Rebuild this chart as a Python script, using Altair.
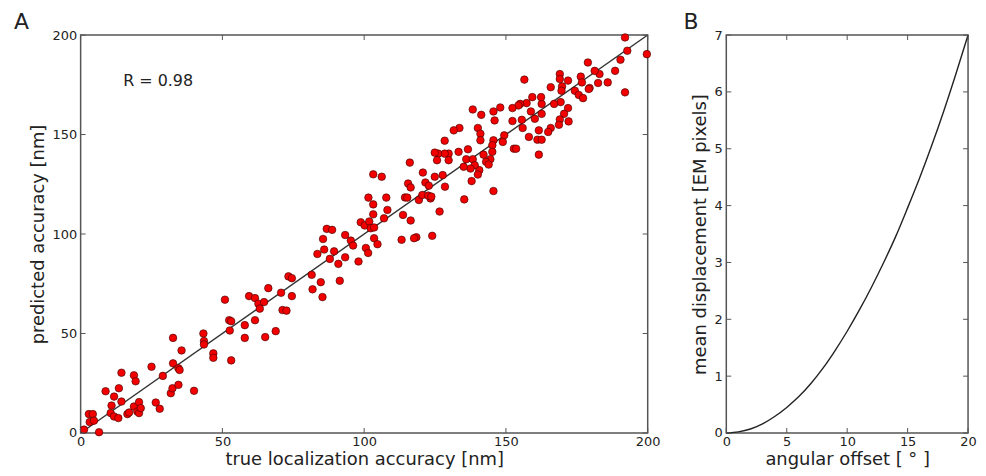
import altair as alt
import pandas as pd

# ---------------- Panel A data ----------------
true_acc = [
    1.2, 2.9, 4.3, 3.2, 4.7, 6.5, 8.8, 11.8, 10.9, 10.6, 11.8, 13.3, 13.5, 14.4, 14.4,
    16.5, 17.1, 18.8, 18.8, 19.4, 20.0, 20.6, 20.6, 21.2, 25.0, 26.5, 27.9, 29.0, 31.8,
    32.4, 32.6, 32.6, 34.5, 34.9, 34.5, 35.6, 40.0, 43.3, 43.5, 43.5, 46.8, 46.8, 50.9,
    52.4, 53.1, 52.6, 53.1, 57.9, 57.9, 59.4, 61.5, 61.5, 62.7, 63.2, 64.7, 65.1, 66.2,
    68.8, 70.7, 71.2, 72.6, 73.3, 74.5, 74.5, 81.5, 81.8, 83.5, 84.7, 85.3, 85.5, 85.9,
    87.9, 89.4, 90.9, 91.4, 93.3, 93.3, 95.3, 96.1, 98.0, 100.6, 101.4,
    86.8, 88.7, 98.8, 100.2, 101.8, 101.5, 103.5, 104.7, 118.4,
    192.0, 192.8, 199.7, 192.0, 188.5, 190.4, 185.9, 182.5, 183.0, 181.3, 178.9, 179.5,
    179.2, 176.4, 176.8, 174.3, 175.7, 177.2, 171.9, 169.0, 169.0, 169.8, 169.6, 165.8,
    156.5, 169.3, 171.9, 170.5, 169.0, 172.1, 168.7, 165.8, 164.9, 167.0, 162.6, 162.4,
    159.3, 157.3, 155.0, 154.4, 152.3, 162.6, 158.8, 160.2, 155.6, 152.3, 155.9, 161.6,
    158.1, 161.1, 162.6, 161.6, 148.0, 145.6, 146.0, 141.3, 138.3, 140.1, 141.0, 141.0,
    133.6, 131.6, 128.4, 145.6, 149.4, 148.9, 145.2, 152.8, 153.6, 145.2, 142.1, 144.5,
    143.0, 143.9, 140.6, 140.1, 145.6, 137.9, 136.6, 136.0, 133.3, 138.3, 139.0, 137.5,
    135.1, 129.8, 128.4, 126.1, 124.9, 125.7, 129.8, 127.7, 124.9, 128.5, 135.3, 120.7,
    121.6, 122.8, 123.4, 119.3, 120.5, 122.6, 123.7, 114.4, 115.2, 115.5, 116.4, 116.1,
    126.6, 113.7, 116.4, 124.0, 117.6, 113.2, 107.8, 108.2, 107.0, 103.2, 106.2, 103.2,
    103.2, 102.3, 103.5,
]
pred_acc = [
    1.7, 9.5, 9.5, 5.5, 6.2, 0.4, 21.0, 18.3, 13.8, 10.0, 8.3, 7.5, 22.5, 30.3, 15.8,
    9.5, 10.3, 13.3, 29.0, 26.0, 10.8, 15.5, 10.0, 12.5, 33.3, 15.3, 12.2, 28.7, 20.0,
    22.5, 47.8, 35.0, 32.5, 31.7, 24.2, 41.5, 21.2, 50.0, 46.2, 44.5, 40.0, 37.8, 67.0,
    56.7, 56.2, 51.5, 36.5, 54.2, 47.8, 68.8, 67.8, 56.7, 65.0, 62.5, 65.8, 48.2, 72.8,
    51.2, 70.5, 61.8, 61.5, 78.7, 77.8, 68.8, 79.5, 72.2, 90.0, 75.8, 68.3, 97.5, 92.2,
    87.5, 91.3, 85.0, 76.5, 88.3, 99.5, 96.7, 94.2, 86.2, 93.0, 90.5,
    102.6, 102.1, 105.9, 104.3, 106.3, 118.3, 97.9, 94.9, 98.4,
    198.8, 192.1, 190.4, 171.2, 182.0, 187.6, 176.2, 175.9, 180.4, 182.0, 186.2, 173.4,
    172.9, 179.1, 176.2, 172.0, 169.9, 168.3, 177.1, 180.4, 177.9, 174.2, 172.0, 173.8,
    177.6, 166.3, 163.3, 160.4, 157.6, 156.6, 154.9, 153.3, 151.3, 165.4, 165.4, 168.8,
    168.8, 165.8, 165.4, 164.6, 163.3, 160.4, 161.6, 157.9, 157.4, 156.8, 153.3, 152.1,
    148.8, 147.4, 147.4, 139.9, 163.6, 161.6, 157.1, 159.9, 162.6, 153.3, 150.4, 147.1,
    153.3, 152.1, 146.9, 147.1, 149.6, 146.3, 144.6, 142.9, 142.9, 141.3, 139.9, 137.6,
    136.3, 134.9, 132.1, 129.9, 121.6, 126.6, 142.6, 137.6, 141.3, 137.6, 134.6, 132.9,
    133.8, 140.4, 140.4, 140.4, 140.9, 137.1, 137.1, 129.6, 128.8, 123.8, 117.4, 130.9,
    125.9, 124.3, 117.9, 117.1, 119.6, 119.3, 118.8, 118.4, 118.3, 125.4, 123.4, 135.9,
    111.3, 109.6, 106.8, 99.1, 97.9, 97.1, 118.3, 112.1, 107.9, 130.0, 128.8, 114.9,
    109.9, 102.9, 103.3,
]
fit_x = [0, 200]
fit_y = [0, 200]
r_label = ["R = 0.98"]
r_pos_x = [15]
r_pos_y = [177]

# ---------------- Panel B data ----------------
angle = [0, 1, 2, 3, 4, 5, 6, 7, 8, 9, 10, 11, 12, 13, 14, 15, 16, 17, 18, 19, 20]
displacement = [0.0, 0.02, 0.07, 0.16, 0.29, 0.45, 0.64, 0.87, 1.14, 1.45, 1.79,
                2.16, 2.56, 2.99, 3.45, 3.96, 4.49, 5.06, 5.67, 6.32, 7.0]

a_ticks = [0, 50, 100, 150, 200]
b_xticks = [0, 5, 10, 15, 20]
b_yticks = [0, 1, 2, 3, 4, 5, 6, 7]

W_A, W_B, H = 570, 243, 400
FONT = "DejaVu Sans"
TXT = "#222222"
FRAME = "#555555"
TL = 5  # inward tick length

scatter_df = pd.DataFrame({"x": true_acc, "y": pred_acc})
fit_df = pd.DataFrame({"x": fit_x, "y": fit_y})
r_df = pd.DataFrame({"x": r_pos_x, "y": r_pos_y, "t": r_label})
curve_df = pd.DataFrame({"x": angle, "y": displacement})


def inner_ticks(xt, yt, xscale, yscale, w):
    xdf = pd.DataFrame({"v": xt})
    ydf = pd.DataFrame({"v": yt})
    base_x = alt.X("v:Q", scale=xscale)
    base_y = alt.Y("v:Q", scale=yscale)
    bottom = alt.Chart(xdf).mark_rule(color=FRAME, strokeWidth=1).encode(
        x=base_x, y=alt.value(H), y2=alt.value(H - TL))
    top = alt.Chart(xdf).mark_rule(color=FRAME, strokeWidth=1).encode(
        x=base_x, y=alt.value(0), y2=alt.value(TL))
    left = alt.Chart(ydf).mark_rule(color=FRAME, strokeWidth=1).encode(
        y=base_y, x=alt.value(0), x2=alt.value(TL))
    right = alt.Chart(ydf).mark_rule(color=FRAME, strokeWidth=1).encode(
        y=base_y, x=alt.value(w), x2=alt.value(w - TL))
    return [bottom, top, left, right]


# ---------------- Panel A ----------------
xs_a = alt.Scale(domain=[0, 200], nice=False, zero=False)
ys_a = alt.Scale(domain=[0, 200], nice=False, zero=False)

x_axis_a = alt.Axis(values=a_ticks, format="d", title="true localization accuracy [nm]")
y_axis_a = alt.Axis(values=a_ticks, format="d", title="predicted accuracy [nm]")

points = alt.Chart(scatter_df).mark_circle(
    size=58, color="#f20000", opacity=1, stroke="#3a0000", strokeWidth=0.6
).encode(
    x=alt.X("x:Q", scale=xs_a, axis=x_axis_a),
    y=alt.Y("y:Q", scale=ys_a, axis=y_axis_a),
)
fit = alt.Chart(fit_df).mark_line(color="#333333", strokeWidth=1.4).encode(
    x=alt.X("x:Q", scale=xs_a), y=alt.Y("y:Q", scale=ys_a))
r_text = alt.Chart(r_df).mark_text(
    align="left", baseline="middle", fontSize=16, font=FONT, color=TXT
).encode(x=alt.X("x:Q", scale=xs_a), y=alt.Y("y:Q", scale=ys_a), text="t:N")
label_a = alt.Chart(pd.DataFrame({"t": ["A"]})).mark_text(
    align="left", baseline="top", fontSize=22, font=FONT, color=TXT
).encode(x=alt.value(-67), y=alt.value(-23.5), text="t:N")

panel_a = alt.layer(
    fit, points, r_text, label_a, *inner_ticks(a_ticks, a_ticks, xs_a, ys_a, W_A)
).properties(width=W_A, height=H)

# ---------------- Panel B ----------------
xs_b = alt.Scale(domain=[0, 20], nice=False, zero=False)
ys_b = alt.Scale(domain=[0, 7], nice=False, zero=False)
curve = alt.Chart(curve_df).mark_line(
    color="#222222", strokeWidth=1.4, interpolate="monotone"
).encode(
    x=alt.X("x:Q", scale=xs_b,
            axis=alt.Axis(values=b_xticks, format="d", title="angular offset [ ° ]")),
    y=alt.Y("y:Q", scale=ys_b,
            axis=alt.Axis(values=b_yticks, format="d", title="mean displacement [EM pixels]")),
)
label_b = alt.Chart(pd.DataFrame({"t": ["B"]})).mark_text(
    align="left", baseline="top", fontSize=22, font=FONT, color=TXT
).encode(x=alt.value(-43), y=alt.value(-23.5), text="t:N")

panel_b = alt.layer(
    curve, label_b, *inner_ticks(b_xticks, b_yticks, xs_b, ys_b, W_B)
).properties(width=W_B, height=H)

chart = alt.hconcat(panel_a, panel_b, spacing=21).properties(
    padding={"left": 5, "top": 0, "right": 0, "bottom": 0}
).configure_view(
    stroke=FRAME, strokeWidth=1.5
).configure_axis(
    domain=False, ticks=False, grid=False,
    labelFont=FONT, labelFontSize=13, labelColor=TXT, labelFlush=False,
    titleFont=FONT, titleFontSize=18, titleFontWeight="normal", titleColor=TXT,
).configure_axisX(
    labelPadding=3, titlePadding=2
).configure_axisY(
    labelPadding=4, titlePadding=5
)

chart.save("out.html", embed_options={"renderer": "svg", "actions": False})
